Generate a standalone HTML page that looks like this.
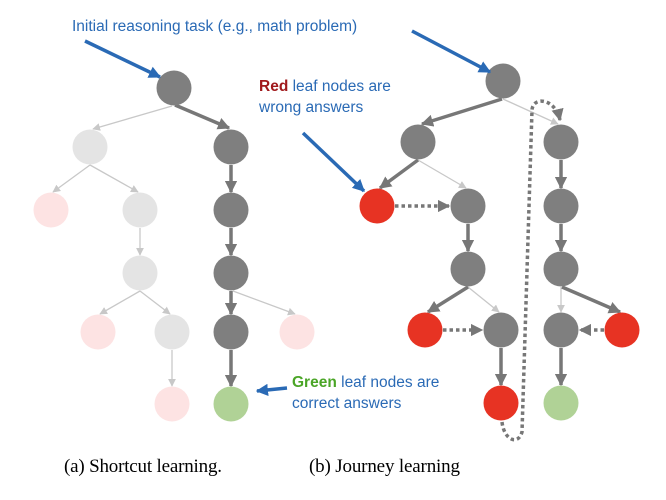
<!DOCTYPE html>
<html><head><meta charset="utf-8"><style>body{margin:0;background:#fff}svg{display:block}circle{r:17.5px}</style></head><body>
<svg width="666" height="500" viewBox="0 0 666 500" xmlns="http://www.w3.org/2000/svg" font-family="Liberation Sans, sans-serif">
<defs>
<marker id="d" viewBox="0 0 10 10" refX="9" refY="5" markerWidth="3.5" markerHeight="3.5" orient="auto"><path d="M0,0L10,5L0,10z" fill="#777"/></marker>
<marker id="l" viewBox="0 0 10 10" refX="9" refY="5" markerWidth="6" markerHeight="6" orient="auto"><path d="M0,0L10,5L0,10z" fill="#c8c8c8"/></marker>
<marker id="b" viewBox="0 0 10 10" refX="9" refY="5" markerWidth="3.5" markerHeight="3.5" orient="auto"><path d="M0,0L10,5L0,10z" fill="#2a6ab5"/></marker>
<marker id="t" viewBox="0 0 10 10" refX="9" refY="5" markerWidth="3.5" markerHeight="3.5" orient="auto"><path d="M0,0L10,5L0,10z" fill="#777"/></marker>
</defs>
<g stroke="#c8c8c8" stroke-width="1.3" fill="none" marker-end="url(#l)">
<line x1="172" y1="106" x2="93" y2="129"/>
<line x1="90" y1="165" x2="53" y2="192"/>
<line x1="90" y1="165" x2="138" y2="192"/>
<line x1="140" y1="228" x2="140" y2="255"/>
<line x1="140" y1="291" x2="100" y2="314"/>
<line x1="140" y1="291" x2="170" y2="314"/>
<line x1="172" y1="350" x2="172" y2="386"/>
<line x1="233" y1="291" x2="295" y2="314"/>
<line x1="503" y1="99" x2="558" y2="124"/>
<line x1="418" y1="160" x2="466" y2="188"/>
<line x1="468" y1="287" x2="499" y2="312"/>
<line x1="561" y1="287" x2="561" y2="312"/>
</g>
<g stroke="#777" stroke-width="3.5" fill="none" marker-end="url(#d)">
<line x1="175" y1="105" x2="229" y2="128"/>
<line x1="231" y1="165" x2="231" y2="192"/>
<line x1="231" y1="228" x2="231" y2="255"/>
<line x1="231" y1="291" x2="231" y2="314"/>
<line x1="231" y1="350" x2="231" y2="386"/>
<line x1="502" y1="99" x2="422" y2="124"/>
<line x1="418" y1="160" x2="380" y2="188"/>
<line x1="468" y1="224" x2="468" y2="251"/>
<line x1="468" y1="287" x2="428" y2="312"/>
<line x1="501" y1="348" x2="501" y2="385"/>
<line x1="561" y1="160" x2="561" y2="188"/>
<line x1="561" y1="224" x2="561" y2="251"/>
<line x1="562" y1="287" x2="620" y2="312"/>
<line x1="561" y1="348" x2="561" y2="385"/>
</g>
<g stroke="#777" stroke-width="3.5" fill="none" stroke-dasharray="3.5 3" marker-end="url(#t)">
<line x1="395" y1="206" x2="449" y2="206"/>
<line x1="443" y1="330" x2="482" y2="330"/>
<line x1="604" y1="330" x2="580" y2="330"/>
<path d="M502,422 C504,440 518,446 522,432 L532,110 C533,96 555,98 560,120"/>
</g>
<g fill="#e4e4e4"><circle cx="90" cy="147" r="17.5"/><circle cx="140" cy="210" r="17.5"/><circle cx="140" cy="273" r="17.5"/><circle cx="172" cy="332" r="17.5"/></g>
<g fill="#fde3e3"><circle cx="51" cy="210" r="17.5"/><circle cx="98" cy="332" r="17.5"/><circle cx="297" cy="332" r="17.5"/><circle cx="172" cy="404" r="17.5"/></g>
<g fill="#7f7f7f"><circle cx="174" cy="88" r="17.5"/><circle cx="231" cy="147" r="17.5"/><circle cx="231" cy="210" r="17.5"/><circle cx="231" cy="273" r="17.5"/><circle cx="231" cy="332" r="17.5"/>
<circle cx="503" cy="81" r="17.5"/><circle cx="418" cy="142" r="17.5"/><circle cx="561" cy="142" r="17.5"/><circle cx="468" cy="206" r="17.5"/><circle cx="561" cy="206" r="17.5"/><circle cx="468" cy="269" r="17.5"/><circle cx="561" cy="269" r="17.5"/><circle cx="501" cy="330" r="17.5"/><circle cx="561" cy="330" r="17.5"/></g>
<g fill="#e73323"><circle cx="377" cy="206" r="17.5"/><circle cx="425" cy="330" r="17.5"/><circle cx="622" cy="330" r="17.5"/><circle cx="501" cy="403" r="17.5"/></g>
<g fill="#b0d296"><circle cx="231" cy="404" r="17.5"/><circle cx="561" cy="403" r="17.5"/></g>
<g stroke="#2a6ab5" stroke-width="3.5" fill="none" marker-end="url(#b)">
<line x1="85" y1="41" x2="160" y2="77"/>
<line x1="412" y1="31" x2="490" y2="72"/>
<line x1="303" y1="133" x2="364" y2="191"/>
<line x1="287" y1="388" x2="257" y2="391"/>
</g>
<g font-size="15.5" fill="#2a6ab5">
<text x="72" y="31">Initial reasoning task (e.g., math problem)</text>
<text x="259" y="91"><tspan fill="#a0191c" font-weight="bold">Red</tspan> leaf nodes are</text>
<text x="259" y="112">wrong answers</text>
<text x="292" y="387"><tspan fill="#4aa526" font-weight="bold">Green</tspan> leaf nodes are</text>
<text x="292" y="408">correct answers</text>
</g>
<g font-family="Liberation Serif, serif" font-size="19" fill="#000">
<text x="64" y="472" textLength="158">(a) Shortcut learning.</text>
<text x="309" y="472" textLength="151">(b) Journey learning</text>
</g>
</svg>
</body></html>
